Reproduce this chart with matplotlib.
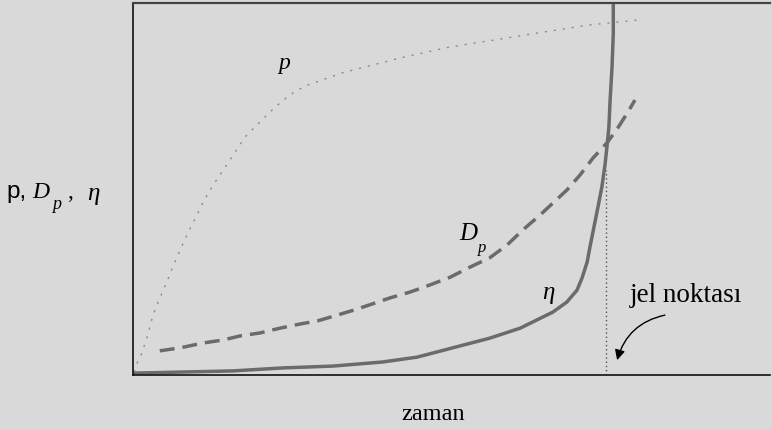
import matplotlib
matplotlib.use("Agg")
import matplotlib.pyplot as plt

# ---- data (arbitrary units, 0-100) ----
p_time = [0.16, 0.63, 1.4, 2.4, 3.1, 4.2, 5.3, 6.3, 7.4, 8.6, 9.9, 11.1, 12.6, 15.1,
          17.6, 19.9, 22.3, 24.6, 27.0, 29.7, 32.8, 36.4, 41.9, 49.8, 57.6, 64.5, 71.7, 79.1]
p_vals = [0.8, 3.2, 5.9, 11.3, 15.9, 20.7, 25.0, 29.3, 33.6, 38.2, 42.5, 46.8, 51.1, 57.5,
          64.0, 68.0, 72.0, 75.3, 77.7, 79.3, 81.2, 82.8, 85.2, 88.2, 90.3, 92.2, 94.1, 95.4]

dp_time = [4.2, 7.4, 11.0, 14.1, 16.8, 19.9, 23.1, 26.2, 28.9, 34.8, 40.3, 43.5, 46.6,
           49.8, 52.9, 56.0, 58.7, 61.2, 63.9, 65.9, 68.1, 70.2, 72.2, 74.4, 76.1, 77.7, 78.8]
dp_vals = [6.5, 7.3, 8.6, 9.4, 10.5, 11.3, 12.6, 13.7, 14.5, 17.5, 20.7, 22.3, 24.2,
           26.3, 29.0, 31.5, 34.9, 39.0, 43.0, 46.2, 49.7, 53.8, 58.3, 62.4, 66.4, 70.7, 73.9]

eta_time = [0.0, 7.8, 15.7, 23.5, 31.4, 39.2, 44.6, 51.3, 56.0, 60.8, 63.4, 65.9, 68.1,
            69.7, 70.5, 71.3, 71.7, 72.2, 73.0, 73.6, 74.1, 74.4, 74.7, 74.9, 75.2, 75.4, 75.4]
eta_vals = [0.5, 0.8, 1.1, 1.9, 2.4, 3.5, 4.8, 7.8, 9.9, 12.6, 14.8, 16.9, 19.6,
            22.8, 26.1, 30.4, 34.1, 38.4, 45.2, 50.5, 56.5, 61.3, 66.4, 73.9, 82.8, 91.9, 99.7]

gel_time = 74.3
gel_top = 55.0

xlabel = "zaman"
gel_label = "jel noktası"

BG = "#d9d9d9"
CURVE = "#6b6b6b"

fig = plt.figure(figsize=(7.72, 4.30), dpi=100, facecolor=BG)
ax = fig.add_axes([133/772, 55/430, 637/772, 372/430])
ax.set_facecolor(BG)
ax.set_xlim(0, 100)
ax.set_ylim(0, 100)
ax.set_xticks([])
ax.set_yticks([])
ax.spines["right"].set_visible(False)
ax.spines["top"].set_color("#444444")
ax.spines["top"].set_linewidth(1.6)
ax.spines["left"].set_color("#111111")
ax.spines["left"].set_linewidth(1.2)
ax.spines["bottom"].set_color("#111111")
ax.spines["bottom"].set_linewidth(1.2)

ax.plot(p_time, p_vals, color="#8a8a8a", lw=1.0, linestyle=(0, (1.5, 5)))
ax.plot(dp_time, dp_vals, color=CURVE, lw=2.5, linestyle=(0, (4.3, 2.3)))
ax.plot([gel_time, gel_time], [0, gel_top], color="#555555", lw=1.0, linestyle=(0, (1, 2)))
ax.plot(eta_time, eta_vals, color=CURVE, lw=2.5, solid_capstyle="butt",
        solid_joinstyle="round", clip_on=False)

serif = "Liberation Serif"
ax.text(22.9, 82.3, "p", family=serif, style="italic", fontsize=17, va="baseline")
ax.text(51.3, 36.3, "D", family=serif, style="italic", fontsize=18, va="baseline")
ax.text(54.2, 33.0, "p", family=serif, style="italic", fontsize=12, va="baseline")
ax.text(64.2, 20.5, "η", family=serif, style="italic", fontsize=18, va="baseline")

ax.text(78.0, 19.6, gel_label, family=serif, fontsize=19.5, va="baseline")
ax.annotate("", xy=(76.0, 4.0), xytext=(83.5, 16.1),
            arrowprops=dict(arrowstyle="-|>", color="black", lw=1.0,
                            mutation_scale=15, connectionstyle="arc3,rad=0.3",
                            shrinkA=0, shrinkB=0))

fig.text(433.5/772, 10/430, xlabel, family=serif, fontsize=17.5, ha="center", va="baseline")

# y label: "p, D_p , η"
fig.text(6/772, (430-198)/430, "p,", family="Liberation Sans", fontsize=17.5, va="baseline")
fig.text(32/772, (430-198)/430, "D", family=serif, style="italic", fontsize=17, va="baseline")
fig.text(52/772, (430-209)/430, "p", family=serif, style="italic", fontsize=13, va="baseline")
fig.text(67/772, (430-198)/430, ",", family=serif, fontsize=17, va="baseline")
fig.text(87/772, (430-200)/430, "η", family=serif, style="italic", fontsize=18, va="baseline")

fig.savefig("out.png", dpi=100, facecolor=BG)
